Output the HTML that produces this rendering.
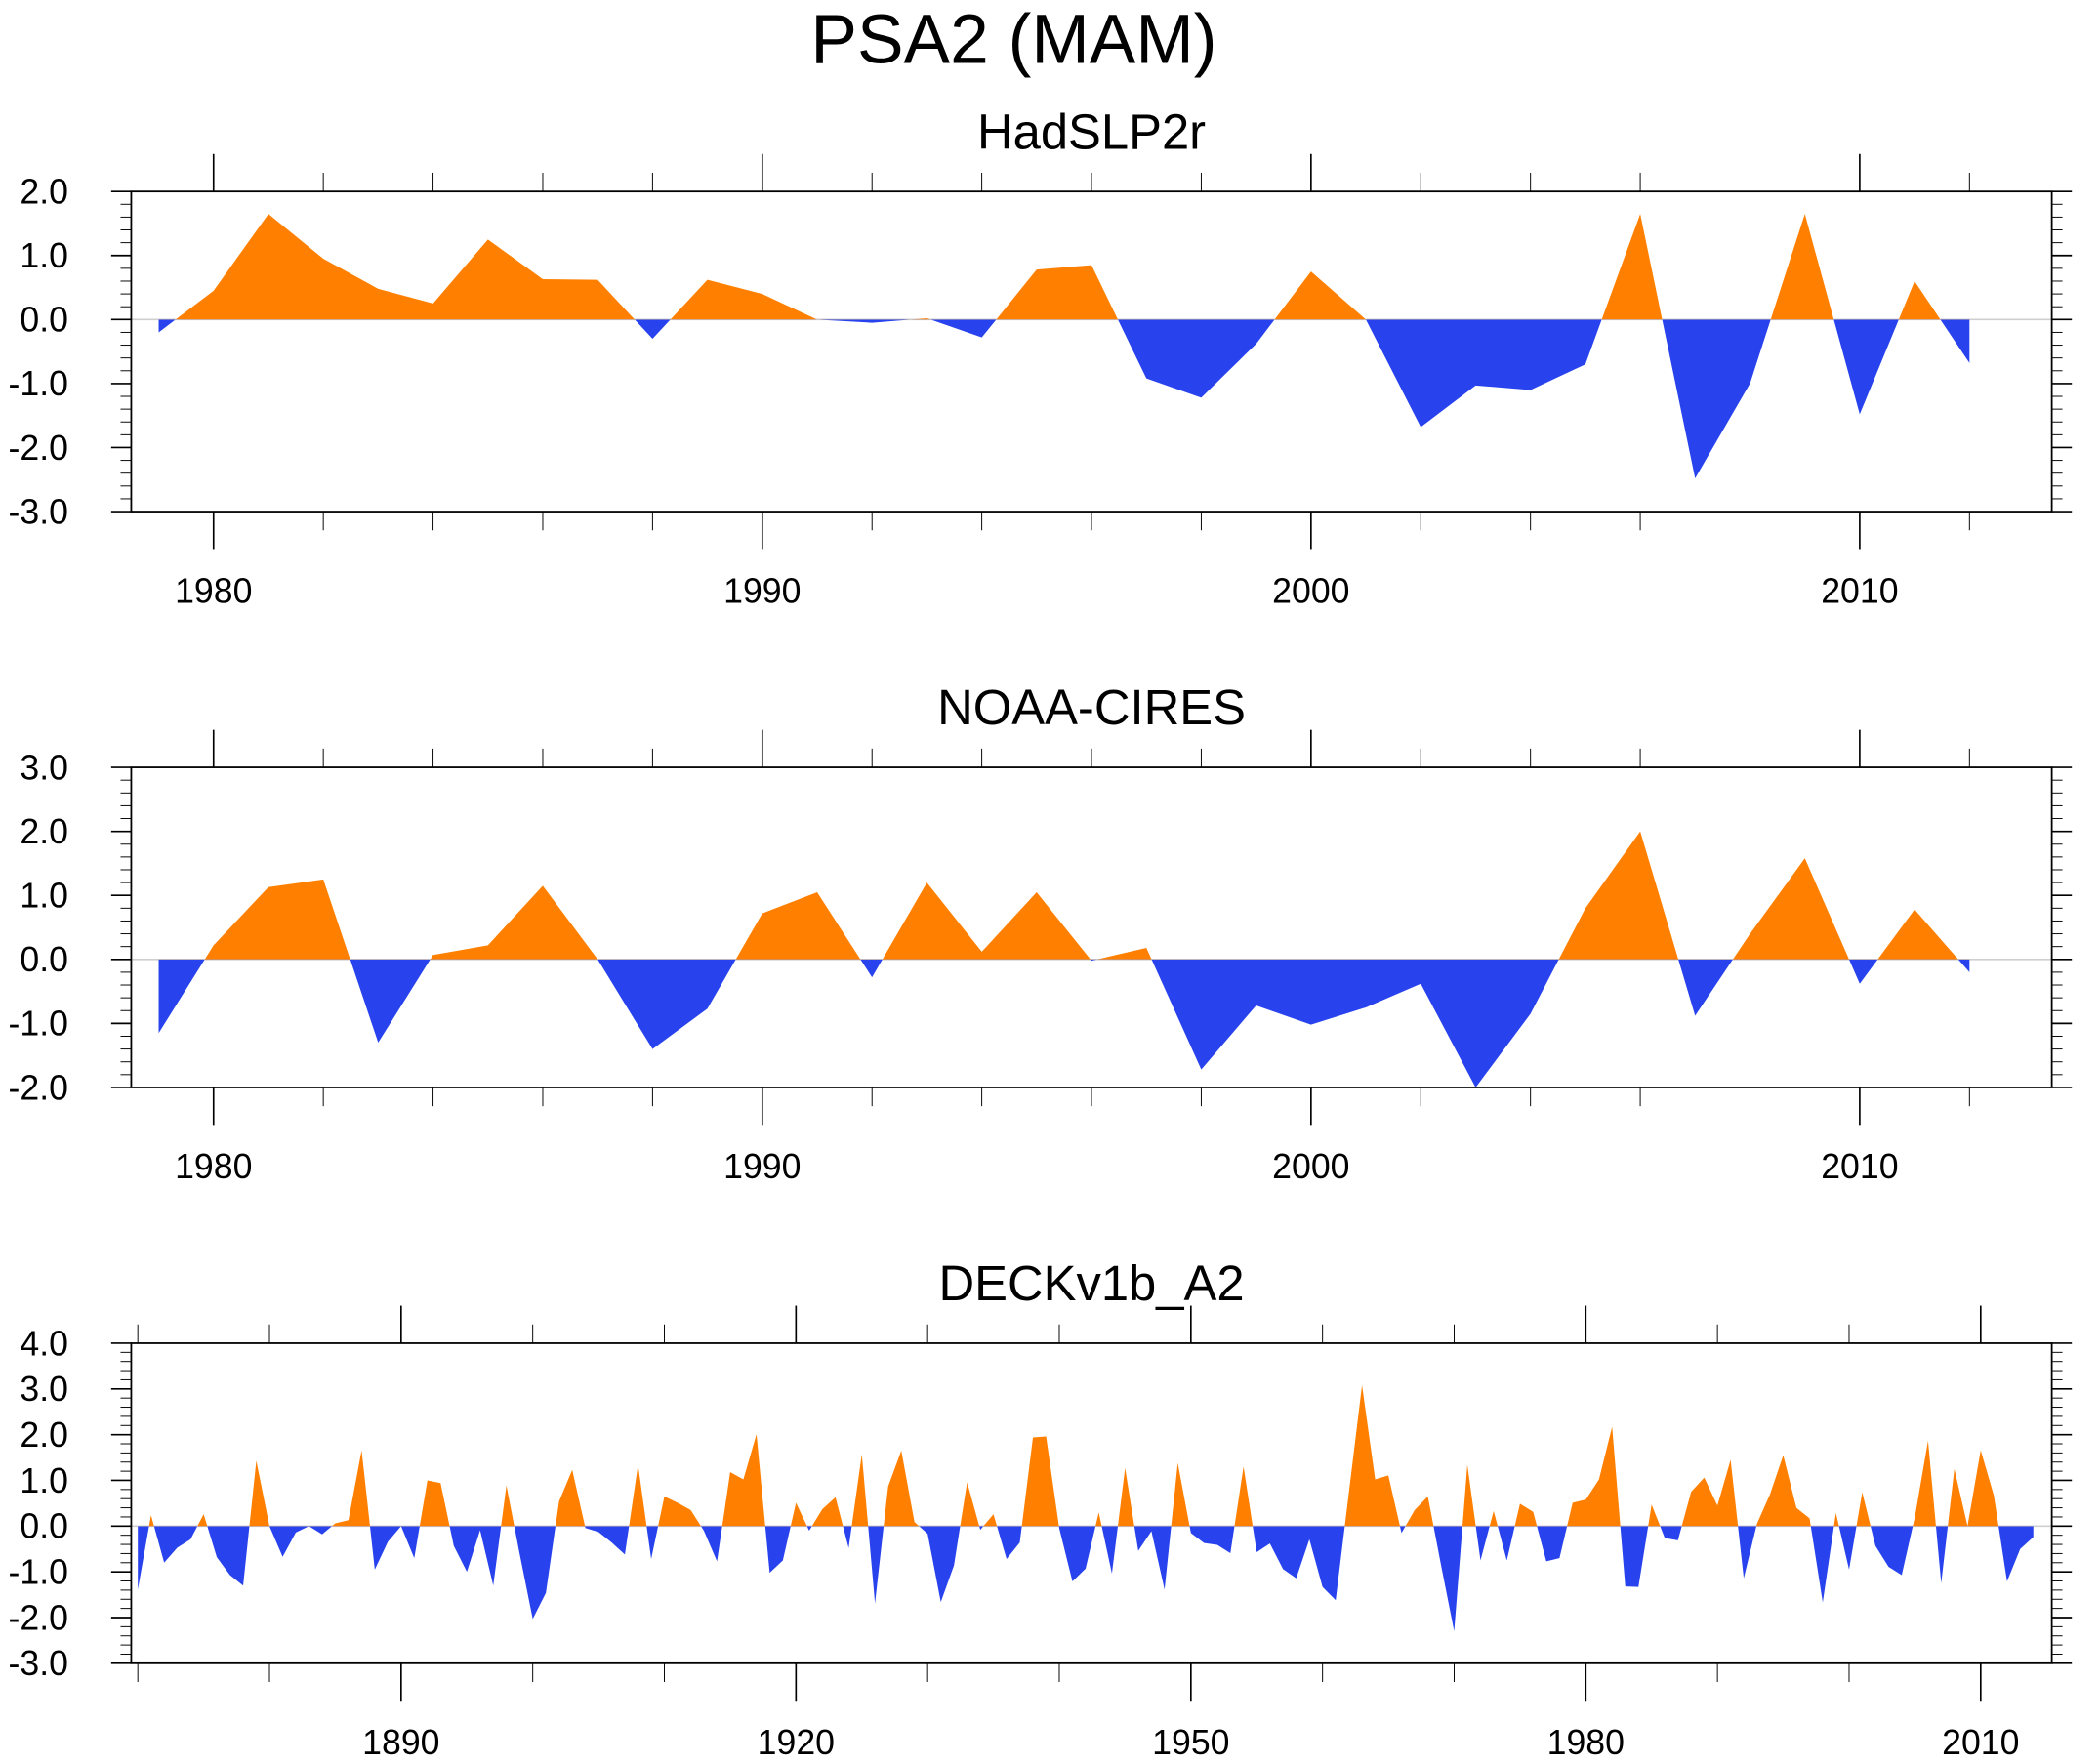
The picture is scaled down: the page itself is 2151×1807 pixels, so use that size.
<!DOCTYPE html>
<html><head><meta charset="utf-8"><style>
html,body{margin:0;padding:0;background:#fff}
svg{display:block}
text{font-family:"Liberation Sans",sans-serif;fill:#000}
</style></head><body>
<svg id="chart" xmlns="http://www.w3.org/2000/svg" width="2151" height="1807" viewBox="0 0 1568 1317.2" preserveAspectRatio="none">
<text x="757" y="47" font-size="52" text-anchor="middle">PSA2 (MAM)</text>
</svg>
<script>
const hadYears = [1979, 2012];
const hadValues = [-0.2,0.45,1.65,0.95,0.48,0.25,1.25,0.63,0.62,-0.3,0.62,0.4,0.0,-0.05,0.02,-0.28,0.78,0.85,-0.92,-1.22,-0.38,0.75,0.0,-1.68,-1.03,-1.1,-0.7,1.65,-2.48,-1.0,1.65,-1.48,0.6,-0.68];
const noaaYears = [1979, 2012];
const noaaValues = [-1.15,0.22,1.13,1.25,-1.3,0.07,0.22,1.15,0.0,-1.4,-0.77,0.72,1.05,-0.28,1.2,0.12,1.05,-0.02,0.18,-1.72,-0.72,-1.02,-0.75,-0.38,-2.0,-0.85,0.8,2.0,-0.88,0.4,1.58,-0.38,0.78,-0.2];
const deckYears = [1870, 2014];
const deckValues = [-1.39,0.24,-0.8,-0.47,-0.29,0.26,-0.68,-1.07,-1.3,1.43,0.0,-0.67,-0.14,0.0,-0.18,0.06,0.13,1.66,-0.95,-0.34,0.0,-0.7,1.0,0.94,-0.43,-1.0,-0.09,-1.3,0.89,-0.6,-2.03,-1.46,0.54,1.23,-0.04,-0.13,-0.36,-0.62,1.34,-0.72,0.65,0.51,0.35,-0.1,-0.77,1.18,1.02,2.01,-1.02,-0.75,0.51,-0.1,0.37,0.63,-0.48,1.57,-1.69,0.87,1.65,0.09,-0.17,-1.66,-0.86,0.96,-0.08,0.26,-0.72,-0.36,1.94,1.96,-0.05,-1.21,-0.93,0.3,-1.04,1.27,-0.54,-0.11,-1.39,1.38,-0.15,-0.37,-0.41,-0.59,1.3,-0.57,-0.38,-0.94,-1.14,-0.29,-1.33,-1.62,0.73,3.08,1.02,1.11,-0.15,0.35,0.65,-0.85,-2.3,1.34,-0.75,0.33,-0.75,0.49,0.31,-0.77,-0.7,0.51,0.58,1.02,2.17,-1.32,-1.33,0.47,-0.26,-0.31,0.75,1.06,0.45,1.45,-1.14,0.05,0.7,1.55,0.4,0.17,-1.67,0.29,-0.95,0.74,-0.43,-0.89,-1.07,0.2,1.87,-1.25,1.25,0.0,1.66,0.67,-1.21,-0.5,-0.24];
const hadYTicks = ["2.0","1.0","0.0","-1.0","-2.0","-3.0"];
const noaaYTicks = ["3.0","2.0","1.0","0.0","-1.0","-2.0"];
const deckYTicks = ["4.0","3.0","2.0","1.0","0.0","-1.0","-2.0","-3.0"];
const recentXTicks = ["1980","1990","2000","2010"];
const longXTicks = ["1890","1920","1950","1980","2010"];

const NS="http://www.w3.org/2000/svg";
const svg=document.getElementById('chart');
function mk(tag,attrs,parent){const e=document.createElementNS(NS,tag);for(const k in attrs)e.setAttribute(k,attrs[k]);(parent||svg).appendChild(e);return e;}

function panel(cfg){
  const L=98,R=1532,T=cfg.top,B=cfg.top+239;
  const g=mk('g',{});
  
  
  const xs=v=>L+(v-cfg.xmin)/(cfg.xmax-cfg.xmin)*(R-L);
  const ys=v=>B-(v-cfg.ymin)/(cfg.ymax-cfg.ymin)*(B-T);
  const t=mk('text',{x:815,y:cfg.top-32,'font-size':37,'text-anchor':'middle'},g);
  t.textContent=cfg.title;
  
  
  const z=mk('line',{x1:L,x2:R,y1:ys(0),y2:ys(0),stroke:'#cfcfcf','stroke-width':1.2},g);
  
  
  const n=cfg.values.length;
  let pts=[xs(cfg.years[0])+','+ys(0)];
  for(let i=0;i<n;i++)pts.push(xs(cfg.years[0]+i)+','+ys(cfg.values[i]));
  pts.push(xs(cfg.years[0]+n-1)+','+ys(0));
  const cidU=cfg.name+'-up',cidD=cfg.name+'-dn';
  const cu=mk('clipPath',{id:cidU},g);mk('rect',{x:L,y:T,width:R-L,height:ys(0)-T},cu);
  const cd=mk('clipPath',{id:cidD},g);mk('rect',{x:L,y:ys(0),width:R-L,height:B-ys(0)},cd);
  const pu=mk('polygon',{points:pts.join(' '),fill:'#ff8000','clip-path':'url(#'+cidU+')'},g);
  
  
  const pd=mk('polygon',{points:pts.join(' '),fill:'#2843ee','clip-path':'url(#'+cidD+')'},g);
  
  
  const f=mk('rect',{x:L,y:T,width:R-L,height:B-T,fill:'none',stroke:'#000','stroke-width':1.3},g);
  
  
  for(let v=cfg.ymin;v<=cfg.ymax+1e-9;v+=0.2){
    const major=Math.abs(v-Math.round(v))<1e-6;
    const len=major?15:8,y=ys(v);
    mk('line',{x1:L-len,x2:L,y1:y,y2:y,stroke:'#000','stroke-width':major?1.2:0.7},g);
    mk('line',{x1:R,x2:R+len,y1:y,y2:y,stroke:'#000','stroke-width':major?1.2:0.7},g);
  }
  cfg.yTicks.forEach(lbl=>{
    const tt=mk('text',{x:51,y:ys(parseFloat(lbl))+9,'font-size':26,'text-anchor':'end'},g);
    tt.textContent=lbl;
    
    
  });
  const first=Math.ceil(cfg.xmin/cfg.minorStep)*cfg.minorStep;
  for(let yr=first;yr<=cfg.xmax;yr+=cfg.minorStep){
    const major=yr%cfg.majorStep===0;
    const len=major?28:14,x=xs(yr);
    mk('line',{x1:x,x2:x,y1:T-len,y2:T,stroke:'#000','stroke-width':major?1.2:0.7},g);
    mk('line',{x1:x,x2:x,y1:B,y2:B+len,stroke:'#000','stroke-width':major?1.2:0.7},g);
  }
  cfg.xTicks.forEach(lbl=>{
    const tt=mk('text',{x:xs(parseFloat(lbl)),y:B+68,'font-size':26,'text-anchor':'middle'},g);
    tt.textContent=lbl;
    
    
  });
}
panel({name:'hadslp2r',title:'HadSLP2r',top:143,xmin:1978.5,xmax:2013.5,ymin:-3,ymax:2,years:hadYears,values:hadValues,yTicks:hadYTicks,xTicks:recentXTicks,minorStep:2,majorStep:10});
panel({name:'noaa-cires',title:'NOAA-CIRES',top:573,xmin:1978.5,xmax:2013.5,ymin:-2,ymax:3,years:noaaYears,values:noaaValues,yTicks:noaaYTicks,xTicks:recentXTicks,minorStep:2,majorStep:10});
panel({name:'deckv1b-a2',title:'DECKv1b_A2',top:1003,xmin:1869.5,xmax:2015.4,ymin:-3,ymax:4,years:deckYears,values:deckValues,yTicks:deckYTicks,xTicks:longXTicks,minorStep:10,majorStep:30});
</script>
</body></html>
